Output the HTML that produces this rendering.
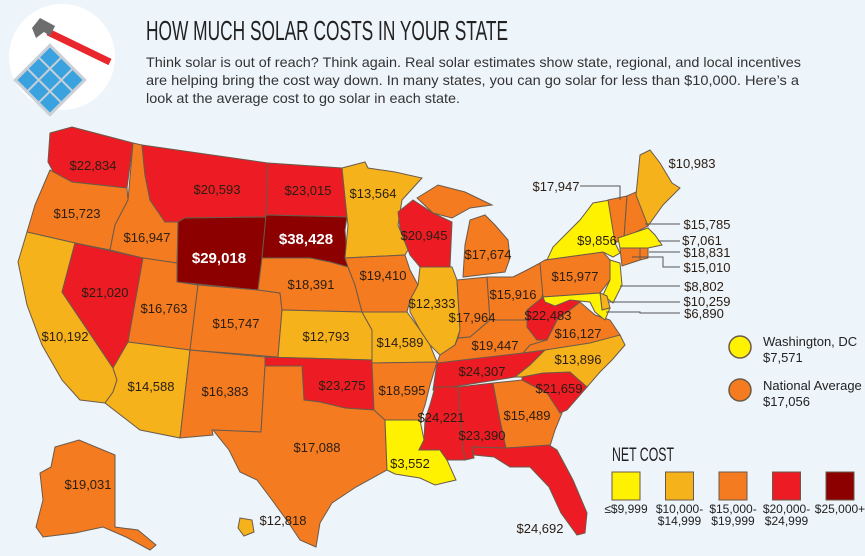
<!DOCTYPE html>
<html><head><meta charset="utf-8"><style>
html,body{margin:0;padding:0;}
body{width:865px;height:556px;overflow:hidden;background:#edf4fa;font-family:"Liberation Sans",sans-serif;}
svg{display:block;}
</style></head><body>
<svg id="chart" width="865" height="556" viewBox="0 0 865 556" xmlns="http://www.w3.org/2000/svg">
<rect width="865" height="556" fill="#edf4fa"/>
<g>
<circle cx="62" cy="57" r="53" fill="#ffffff"/>
<g transform="translate(50,80) rotate(-45)">
<rect x="-26" y="-26" width="52" height="52" fill="#c9cfd6"/>
<rect x="-23" y="-23" width="14" height="14" fill="#3ba2e0"/><rect x="-7" y="-23" width="14" height="14" fill="#3ba2e0"/><rect x="9" y="-23" width="14" height="14" fill="#3ba2e0"/>
<rect x="-23" y="-7" width="14" height="14" fill="#3ba2e0"/><rect x="-7" y="-7" width="14" height="14" fill="#3ba2e0"/><rect x="9" y="-7" width="14" height="14" fill="#3ba2e0"/>
<rect x="-23" y="9" width="14" height="14" fill="#3ba2e0"/><rect x="-7" y="9" width="14" height="14" fill="#3ba2e0"/><rect x="9" y="9" width="14" height="14" fill="#3ba2e0"/>
</g>
<line x1="48" y1="32" x2="110" y2="62" stroke="#e8262c" stroke-width="7"/>
<path d="M32,28 L40,18 L55,26 L50,36 L44,32 L36,38 Z" fill="#6d6d6d"/>
</g>
<text x="146" y="40" font-family="'Liberation Sans Narrow','Liberation Sans',sans-serif" font-size="28" fill="#222" textLength="362" lengthAdjust="spacingAndGlyphs">HOW MUCH SOLAR COSTS IN YOUR STATE</text>
<g font-size="14" fill="#333">
<text x="146" y="67" textLength="655" lengthAdjust="spacingAndGlyphs">Think solar is out of reach? Think again. Real solar estimates show state, regional, and local incentives</text>
<text x="146" y="85" textLength="653" lengthAdjust="spacingAndGlyphs">are helping bring the cost way down. In many states, you can go solar for less than $10,000. Here’s a</text>
<text x="146" y="103" textLength="314" lengthAdjust="spacingAndGlyphs">look at the average cost to go solar in each state.</text>
</g>
<g id="states"></g>
<g id="labels" font-size="13"></g>
<g id="callouts" stroke="#555" stroke-width="1" fill="none"></g>
<g>
<circle cx="740" cy="347" r="11" fill="#fff200" stroke="#6b5a45" stroke-width="1.5"/>
<text x="763" y="346" font-size="13" fill="#222">Washington, DC</text>
<text x="763" y="362" font-size="13" fill="#222">$7,571</text>
</g>
<g>
<circle cx="740" cy="390" r="11" fill="#f47b20" stroke="#6b5a45" stroke-width="1.5"/>
<text x="763" y="390" font-size="13" fill="#222">National Average</text>
<text x="763" y="406" font-size="13" fill="#222">$17,056</text>
</g>
<text x="612" y="461" font-family="'Liberation Sans Narrow','Liberation Sans',sans-serif" font-size="19" fill="#222" textLength="62" lengthAdjust="spacingAndGlyphs">NET COST</text>
<g id="legend" font-size="12" fill="#222"></g>
</svg>
<script>
const stateCodes=["WA","OR","CA","NV","ID","MT","WY","UT","CO","AZ","NM","ND","SD","NE","KS","OK","TX","MN","IA","MO","AR","LA","WI","IL","MI","IN","OH","KY","TN","MS","AL","GA","FL","SC","NC","VA","WV","PA","NY","VT","NH","ME","MA","RI","CT","NJ","DE","MD","AK","HI"];
const stateCosts=[22834,15723,10192,21020,16947,20593,29018,16763,15747,14588,16383,23015,38428,18391,12793,23275,17088,13564,19410,14589,18595,3552,20945,12333,17674,17964,15916,19447,24307,24221,23390,15489,24692,21659,13896,16127,22483,15977,9856,17947,15785,10983,7061,18831,15010,8802,10259,6890,19031,12818];
const binThresholds=[10000,15000,20000,25000];
const binColors=["#fff200","#f6b21b","#f47b20","#ed1c24","#8c0000"];
const binLabels=[["≤$9,999"],["$10,000-","$14,999"],["$15,000-","$19,999"],["$20,000-","$24,999"],["$25,000+"]];

const shapes={
WA:[[50,133],[72,127],[133,143],[127,188],[100,185],[72,182],[55,175],[48,162]],
OR:[[50,170],[72,182],[127,188],[128,200],[115,225],[110,250],[75,243],[27,232],[35,205]],
ID:[[133,143],[142,145],[145,175],[150,200],[165,222],[178,222],[177,263],[143,258],[110,250],[115,225],[128,200]],
MT:[[142,145],[268,163],[266,217],[185,218],[178,222],[165,222],[150,200],[145,175]],
ND:[[268,163],[342,168],[347,217],[266,215]],
SD:[[266,215],[347,217],[345,230],[348,267],[330,262],[310,258],[262,258]],
WY:[[185,218],[266,217],[262,258],[258,290],[177,282],[178,222]],
NE:[[262,258],[310,258],[330,262],[348,267],[355,285],[362,312],[282,310],[280,293],[258,290]],
NV:[[75,243],[143,258],[128,352],[113,368],[62,292]],
CA:[[27,232],[75,243],[62,292],[113,368],[117,380],[113,392],[105,403],[80,400],[62,380],[42,345],[27,305],[18,262]],
UT:[[143,258],[177,263],[177,282],[198,285],[190,350],[128,342]],
CO:[[198,285],[258,290],[280,293],[282,310],[278,357],[190,350]],
AZ:[[128,342],[190,350],[180,438],[140,430],[105,403],[113,392],[117,380],[113,368]],
NM:[[190,350],[265,357],[265,366],[261,432],[212,430],[213,435],[180,438]],
KS:[[282,310],[362,312],[372,330],[372,360],[265,357],[278,357]],
OK:[[265,357],[372,360],[374,410],[345,408],[320,402],[304,400],[302,366],[265,366]],
TX:[[265,366],[302,366],[304,400],[320,402],[345,408],[374,410],[385,420],[387,470],[356,487],[332,503],[320,523],[316,547],[300,540],[288,522],[272,500],[257,480],[240,472],[229,450],[213,430],[261,432]],
MN:[[342,168],[365,162],[368,168],[395,172],[422,178],[402,200],[398,225],[408,250],[405,255],[345,258],[348,225],[347,217]],
IA:[[345,258],[405,255],[410,270],[418,285],[410,300],[407,312],[362,312],[355,285],[348,267]],
MO:[[362,312],[407,312],[420,330],[430,345],[437,362],[372,363],[372,330]],
AR:[[372,363],[437,362],[430,385],[425,405],[420,420],[385,420],[374,410]],
LA:[[385,420],[420,420],[424,440],[419,450],[440,450],[447,460],[456,480],[435,485],[420,478],[395,474],[387,470]],
WI:[[398,212],[413,200],[433,213],[452,222],[450,267],[420,267],[410,255],[400,228]],
MI:[[417,198],[438,185],[465,192],[492,205],[470,208],[452,218],[433,213]],
MI2:[[463,277],[465,245],[470,220],[485,215],[495,225],[508,240],[510,258],[505,272]],
IL:[[420,267],[452,267],[457,280],[460,330],[455,345],[440,355],[430,345],[420,330],[410,312],[410,300],[418,285]],
IN:[[457,280],[487,277],[490,320],[470,337],[458,338],[460,330]],
OH:[[487,277],[513,277],[527,270],[540,263],[543,293],[537,313],[527,320],[490,320]],
KY:[[440,355],[455,345],[458,338],[470,337],[490,320],[527,320],[527,327],[537,340],[547,340],[523,353],[500,357],[437,363]],
TN:[[437,363],[523,353],[545,350],[530,365],[515,377],[433,390]],
MS:[[435,387],[458,387],[462,440],[465,460],[447,460],[440,450],[419,450],[424,440],[425,420],[430,405]],
AL:[[458,387],[493,383],[500,420],[506,448],[472,447],[474,458],[465,460],[462,440]],
GA:[[493,383],[522,380],[547,393],[562,413],[555,430],[550,446],[506,448],[500,420]],
FL:[[472,447],[506,448],[549,445],[557,450],[573,480],[587,513],[585,533],[577,535],[561,513],[549,487],[530,467],[510,467],[494,457],[474,455]],
SC:[[522,377],[543,373],[570,372],[587,387],[567,410],[560,413],[547,393],[522,380]],
NC:[[545,350],[620,335],[625,345],[612,360],[600,372],[587,387],[570,372],[543,373],[522,377],[515,377],[530,365]],
VA:[[557,320],[580,302],[595,315],[610,320],[620,335],[590,343],[545,350],[523,353],[530,345],[547,340]],
WV:[[527,310],[543,297],[545,302],[560,300],[570,297],[580,302],[557,320],[547,340],[537,340],[527,327]],
PA:[[540,263],[545,260],[603,252],[610,260],[610,280],[600,293],[543,297]],
NY:[[547,260],[553,247],[580,220],[593,203],[610,200],[615,243],[620,253],[613,257],[603,252],[545,260]],
VT:[[608,200],[627,196],[624,238],[615,243]],
NH:[[627,196],[636,192],[648,226],[624,238]],
ME:[[636,195],[640,155],[650,150],[660,163],[672,183],[680,188],[663,205],[648,226]],
MA:[[618,238],[648,228],[655,235],[662,245],[648,248],[620,248]],
RI:[[640,248],[648,248],[648,258],[640,260]],
CT:[[620,248],[640,248],[640,260],[622,266]],
NJ:[[610,260],[620,263],[622,285],[613,303],[603,295],[610,280]],
DE:[[600,293],[607,296],[610,308],[602,310]],
MD:[[543,297],[600,293],[602,310],[610,308],[605,320],[595,312],[590,302],[570,300],[555,306],[545,302]],
AK:[[55,447],[79,440],[115,455],[115,527],[138,530],[156,545],[150,550],[126,537],[103,527],[75,533],[43,537],[36,527],[43,500],[40,473],[51,467]],
HI:[[240,518],[252,520],[254,532],[244,536],[238,528]]
};
const labelPos={WA:[93,165],OR:[77,213],ID:[147,237],MT:[217,189],ND:[308,190],SD:[306,239],WY:[219,258],NE:[311,284],NV:[105,292],UT:[164,308],CO:[236,323],KS:[326,336],CA:[65,336],AZ:[151,386],NM:[225,391],OK:[342,385],AR:[402,390],MN:[373,193],IA:[383,275],WI:[424,235],MI:[488,254],IL:[432,303],MO:[400,342],IN:[472,317],OH:[513,294],KY:[495,345],TN:[482,371],WV:[548,315],VA:[578,333],NC:[578,359],SC:[559,388],GA:[527,415],PA:[575,276],NY:[597,240],AL:[482,435],MS:[441,417],LA:[410,463],TX:[317,447],FL:[540,528],AK:[88,484],HI:[283,520],
ME:[692,163],VT:[556,186],NH:[707,224],MA:[702,240],RI:[707,252],CT:[707,267],NJ:[704,286],DE:[707,301],MD:[704,313]};
const calloutPaths=["M580,186 H620 V200","M645,224 H680","M658,241 H680","M649,252 H680","M632,257 H663 V267 H680","M620,286 H680","M608,302 H680","M606,312 H640 V313 H680"];

const NS="http://www.w3.org/2000/svg";
function colorFor(v){let i=0;while(i<binThresholds.length&&v>=binThresholds[i])i++;return i;}
const gS=document.getElementById('states'),gL=document.getElementById('labels'),gC=document.getElementById('callouts'),gLeg=document.getElementById('legend');
stateCodes.forEach((code,i)=>{
  const v=stateCosts[i];const b=colorFor(v);
  const keys=code==="MI"?["MI","MI2"]:[code];
  keys.forEach(k=>{
    const p=document.createElementNS(NS,'polygon');
    p.setAttribute('points',shapes[k].map(q=>q.join(',')).join(' '));
    p.setAttribute('fill',binColors[b]);p.setAttribute('stroke','#6b5a4a');p.setAttribute('stroke-width','1');
    
    
    gS.appendChild(p);
  });
  const lp=labelPos[code];
  const t=document.createElementNS(NS,'text');
  t.setAttribute('x',lp[0]);t.setAttribute('y',lp[1]+5);t.setAttribute('text-anchor','middle');
  t.setAttribute('fill',b===4?'#ffffff':'#2a1d12');
  if(b===4){t.setAttribute('font-weight','bold');t.setAttribute('font-size','15');}
  t.textContent='$'+v.toLocaleString('en-US');
  
  
  gL.appendChild(t);
});
calloutPaths.forEach((d,i)=>{
  const p=document.createElementNS(NS,'path');p.setAttribute('d',d);
  
  
  gC.appendChild(p);
});
binColors.forEach((c,i)=>{
  const x=612+i*53.5;
  const r=document.createElementNS(NS,'rect');
  r.setAttribute('x',x);r.setAttribute('y',472);r.setAttribute('width',28);r.setAttribute('height',28);
  r.setAttribute('fill',c);r.setAttribute('stroke','#6b5a4a');
  
  
  gLeg.appendChild(r);
  binLabels[i].forEach((s,j)=>{
    const t=document.createElementNS(NS,'text');
    t.setAttribute('x',x+14);t.setAttribute('y',513+j*12);t.setAttribute('text-anchor','middle');
    t.textContent=s;
    
    
    gLeg.appendChild(t);
  });
});
</script>
</body></html>
